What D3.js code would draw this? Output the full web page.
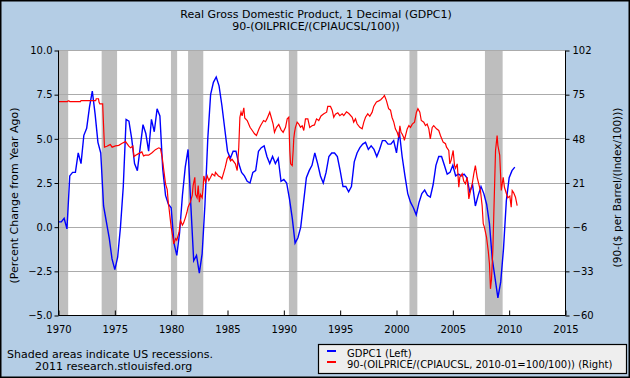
<!DOCTYPE html>
<html><head><meta charset="utf-8">
<script src="https://cdn.jsdelivr.net/npm/d3@7"></script>
<style>body{margin:0;background:#fff;} svg{display:block;font-family:"DejaVu Sans",sans-serif;}</style>
</head><body><svg id="c" width="630" height="378"></svg>
<script>
const titleLines = ["Real Gross Domestic Product, 1 Decimal (GDPC1)", "90-(OILPRICE/(CPIAUCSL/100))"];
const leftAxisTitle = "(Percent Change from Year Ago)";
const rightAxisTitle = "(90-($ per Barrel/(Index/100)))";
const legendLabels = ["GDPC1 (Left)", "90-(OILPRICE/(CPIAUCSL, 2010-01=100/100)) (Right)"];
const notes = ["Shaded areas indicate US recessions.", "2011 research.stlouisfed.org"];
const xTicks = [1970, 1975, 1980, 1985, 1990, 1995, 2000, 2005, 2010, 2015];
const leftTicks = [-5, -2.5, 0, 2.5, 5, 7.5, 10];
const rightTicks = [-60, -33, -6, 21, 48, 75, 102];
const recessionStarts = [1969.92, 1973.83, 1979.98, 1981.50, 1990.45, 2001.15, 2007.85];
const recessionEnds   = [1970.86, 1975.20, 1980.53, 1982.85, 1991.20, 2001.85, 2009.42];

// GDPC1, percent change from year ago, quarterly from 1970 Q1
const gdpStartYear = 1970;
const gdpValues = [
 0.3, 0.3, 0.5, -0.1,
 2.9, 3.1, 3.1, 4.2,
 3.6, 5.2, 5.6, 6.8,
 7.7, 6.4, 4.8, 4.2,
 1.2, 0.3, -0.6, -1.8,
 -2.4, -1.7, 0.0, 2.3,
 6.1, 6.0, 5.0, 3.6,
 3.2, 4.5, 5.8, 5.3,
 4.3, 6.1, 5.4, 6.7,
 6.3, 3.3, 1.8, 1.3,
 1.1, -0.9, -1.6, -0.3,
 1.8, 3.4, 4.4, 1.2,
 -1.9, -1.6, -2.6, -1.5,
 1.3, 5.0, 7.5, 8.2,
 8.5, 8.0, 6.9, 5.6,
 4.3, 3.9, 4.3, 4.3,
 3.6, 3.1, 2.9, 2.6,
 2.5, 3.1, 3.2, 4.3,
 4.5, 4.6, 4.0, 3.6,
 4.0, 3.6, 3.9, 2.6,
 2.7, 2.5, 1.6, 0.5,
 -0.9, -0.6, 0.0, 1.4,
 2.8, 3.2, 3.5, 4.2,
 3.6, 2.9, 2.5, 3.1,
 4.0, 4.2, 4.2, 4.0,
 3.2, 2.3, 2.3, 2.0,
 2.3, 3.7, 4.2, 4.5,
 4.7, 4.8, 4.4, 4.6,
 4.4, 4.0, 4.4, 4.9,
 4.9, 4.7, 4.7, 4.9,
 4.2, 5.4, 4.0, 2.9,
 1.9, 1.4, 1.1, 0.7,
 1.4, 1.9, 2.1, 1.8,
 1.7, 2.4, 3.5, 4.0,
 4.0, 3.5, 3.0, 3.1,
 3.5, 2.9, 3.0, 2.9,
 3.0, 2.8, 2.0, 2.4,
 1.2, 1.8, 2.3, 1.9,
 1.3, 0.2, -1.8, -2.9,
 -4.0, -3.1, -1.2, 1.5,
 2.8, 3.2, 3.4
];

// 90 - real oil price (right axis), dates as decimal years
const oilDates = [
 1970.00,1970.80,1970.85,1970.92,1971.00,1971.95,1972.00,1973.30,1973.35,1973.55,1973.60,1973.67,1973.92,1974.00,1974.08,
 1974.30,1974.45,1974.60,1974.76,1975.06,1975.35,1975.65,1975.95,1976.24,1976.40,1976.60,1976.70,1976.85,1977.07,1977.40,
 1977.55,1977.70,1978.00,1978.30,1978.60,1978.90,1979.05,1979.20,1979.35,1979.50,1979.65,1979.74,1979.80,1979.90,1980.00,
 1980.15,1980.23,1980.40,1980.50,1980.70,1980.83,1981.00,1981.10,1981.27,1981.40,1981.50,1981.70,1981.87,1981.95,1982.10,
 1982.16,1982.30,1982.40,1982.50,1982.60,1982.75,1982.84,1982.90,1983.05,1983.20,1983.34,1983.50,1983.64,1983.87,1983.93,
 1984.20,1984.40,1984.50,1984.67,1984.80,1984.97,1985.10,1985.27,1985.40,1985.70,1985.86,1986.00,1986.10,1986.20,1986.30,
 1986.45,1986.53,1986.75,1987.00,1987.20,1987.40,1987.57,1987.80,1987.93,1988.20,1988.37,1988.50,1988.75,1988.88,1989.05,
 1989.17,1989.35,1989.55,1989.76,1989.94,1990.15,1990.30,1990.44,1990.53,1990.60,1990.74,1990.83,1990.88,1990.95,1991.03,
 1991.18,1991.33,1991.48,1991.63,1991.77,1991.92,1992.13,1992.30,1992.50,1992.72,1992.90,1993.10,1993.30,1993.55,1993.80,
 1993.90,1994.14,1994.29,1994.43,1994.58,1994.79,1994.97,1995.18,1995.32,1995.56,1995.77,1996.07,1996.20,1996.36,1996.50,
 1996.74,1996.95,1997.10,1997.25,1997.45,1997.63,1997.84,1997.98,1998.22,1998.43,1998.60,1998.82,1998.93,1999.10,1999.30,
 1999.47,1999.60,1999.76,1999.90,2000.06,2000.20,2000.30,2000.40,2000.50,2000.65,2000.70,2000.80,2000.95,2001.10,2001.24,
 2001.40,2001.60,2001.77,2001.90,2002.07,2002.20,2002.42,2002.57,2002.72,2002.87,2003.00,2003.17,2003.30,2003.55,2003.75,
 2003.90,2004.14,2004.35,2004.44,2004.64,2004.73,2004.85,2005.03,2005.15,2005.24,2005.39,2005.53,2005.62,2005.83,2005.97,
 2006.12,2006.27,2006.42,2006.57,2006.72,2006.86,2007.00,2007.16,2007.30,2007.45,2007.60,2007.70,2007.80,2007.99,2008.14,
 2008.25,2008.34,2008.43,2008.55,2008.63,2008.79,2008.93,2009.00,2009.16,2009.30,2009.47,2009.58,2009.76,2009.88,2010.06,
 2010.18,2010.27,2010.40,2010.56,2010.71
];
const oilValues = [
 70.8,70.8,71.2,71.2,70.8,70.8,71.4,71.4,72.5,72.5,70.3,69.4,69.4,56.0,42.9,
 43.5,44.0,44.5,42.9,43.7,44.0,45.3,46.3,43.5,42.5,43.5,37.2,38.0,38.8,40.0,
 37.5,38.0,38.0,39.5,41.4,42.5,42.0,36.8,28.6,20.5,17.0,9.3,6.2,0.1,-6.0,
 -12.1,-16.2,-13.0,-14.0,-9.1,-1.9,-4.8,-3.5,0.0,3.1,6.2,9.3,13.4,19.5,24.5,
 14.0,12.0,19.5,9.3,14.0,12.0,18.0,25.3,21.5,25.3,22.5,24.5,26.6,25.3,27.5,
 25.3,24.5,23.5,27.5,30.7,35.8,37.2,34.5,35.5,32.7,28.6,42.9,61.2,64.3,62.0,
 67.0,60.8,59.2,55.1,53.1,51.1,50.0,54.1,56.0,59.2,58.5,60.2,64.3,61.2,57.0,
 52.0,55.0,56.8,53.5,52.0,55.0,60.2,61.2,40.9,32.7,31.7,40.9,48.0,52.0,55.0,
 58.2,57.0,55.1,56.0,53.1,60.2,60.2,55.0,56.0,56.5,60.2,59.2,62.0,63.3,64.3,
 67.8,67.8,65.5,61.2,63.0,63.9,62.2,63.3,62.2,64.5,63.5,61.2,58.2,60.2,57.2,
 55.0,54.1,58.2,61.2,63.3,61.8,64.3,67.8,70.5,71.2,71.9,73.5,74.5,71.5,66.4,
 65.5,61.2,58.2,54.1,52.0,48.9,56.0,52.0,51.0,48.7,47.0,50.0,54.1,56.1,55.0,
 57.0,58.2,64.3,66.4,64.3,59.2,58.2,56.1,57.0,54.1,48.0,55.0,56.1,54.1,53.1,
 50.0,46.0,45.0,42.9,40.9,32.7,35.0,40.9,31.7,30.0,32.7,18.4,24.5,26.6,22.0,
 20.5,24.5,11.3,16.4,20.5,26.6,31.7,24.5,20.5,16.4,7.2,-3.9,-6.0,-12.1,-20.3,
 -28.4,-43.7,-38.0,-20.3,0.1,40.9,50.0,43.9,38.0,16.4,24.5,18.4,14.4,12.0,13.0,
 6.2,16.4,15.0,12.3,7.2
];

const W = 630, H = 378;
const P = {left: 58.5, right: 565.5, top: 50.5, bottom: 315.5};
const svg = d3.select("#c");

svg.append("rect").attr("width", W).attr("height", H).attr("fill", "#B4CDE5");

const x = d3.scaleLinear().domain([1970, 2015]).range([P.left, P.right]);
const yL = d3.scaleLinear().domain([-5, 10]).range([P.bottom, P.top]);
const yR = d3.scaleLinear().domain([-60, 102]).range([P.bottom, P.top]);

svg.append("rect").attr("x", P.left).attr("y", P.top)
  .attr("width", P.right - P.left).attr("height", P.bottom - P.top).attr("fill", "#fff");

svg.append("defs").append("clipPath").attr("id", "clip")
  .append("rect").attr("x", P.left).attr("y", P.top - 1)
  .attr("width", P.right - P.left).attr("height", P.bottom - P.top + 2);

const plot = svg.append("g").attr("clip-path", "url(#clip)");

plot.selectAll("rect.rec").data(recessionStarts).join("rect").attr("class", "rec")
  .attr("x", (d) => x(d))
  .attr("width", (d, i) => x(recessionEnds[i]) - x(d))
  .attr("y", P.top).attr("height", P.bottom - P.top)
  .attr("fill", "#BEBEBE");

plot.selectAll("line.grid").data(leftTicks).join("line").attr("class", "grid")
  .attr("x1", P.left).attr("x2", P.right)
  .attr("y1", (d) => Math.round(yL(d) - 0.5) + 0.5).attr("y2", (d) => Math.round(yL(d) - 0.5) + 0.5)
  .attr("stroke", "#ABABAB").attr("stroke-width", 1);

const gdpData = gdpValues.map((v, i) => ({t: gdpStartYear + i / 4, v}));
const oilData = oilDates.map((t, i) => ({t, v: oilValues[i]}));

plot.append("path").datum(gdpData)
  .attr("d", d3.line().x((d) => x(d.t)).y((d) => yL(d.v)))
  .attr("fill", "none").attr("stroke", "#0000FF").attr("stroke-width", 1.4);

plot.append("path").datum(oilData)
  .attr("d", d3.line().x((d) => x(d.t)).y((d) => yR(d.v)))
  .attr("fill", "none").attr("stroke", "#FF0000").attr("stroke-width", 1.2);

const axL = d3.axisLeft(yL).tickValues(leftTicks).tickFormat(d3.format(".1f")).tickSize(4).tickPadding(2);
const axR = d3.axisRight(yR).tickValues(rightTicks).tickFormat(d3.format("d")).tickSize(4).tickPadding(3);
const axB = d3.axisBottom(x).tickValues(xTicks).tickFormat(d3.format("d")).tickSize(-5).tickPadding(10);

function styleAxis(g) {
  g.selectAll("path.domain").attr("stroke", "#000").attr("stroke-width", 1);
  g.selectAll("line").attr("stroke", "#000");
  g.selectAll("text").attr("fill", "#000").attr("font-size", 10).attr("font-family", "DejaVu Sans");
}
svg.append("g").attr("transform", `translate(${P.left},0)`).call(axL).call(styleAxis)
  .call((g) => g.selectAll("path.domain").attr("d", `M0,${P.top}V${P.bottom}`));
svg.append("g").attr("transform", `translate(${P.right},0)`).call(axR).call(styleAxis)
  .call((g) => g.selectAll("path.domain").attr("d", `M0,${P.top}V${P.bottom}`));
svg.append("g").attr("transform", `translate(0,${P.bottom})`).call(axB).call(styleAxis)
  .call((g) => g.selectAll("path.domain").attr("d", `M${P.left},0H${P.right}`));

svg.selectAll("text.title").data(titleLines).join("text").attr("class", "title")
  .attr("x", 316).attr("y", (d, i) => 17.5 + i * 12.5)
  .attr("text-anchor", "middle").attr("font-size", 11).attr("fill", "#000").text((d) => d);

svg.append("text").attr("transform", "translate(18,195.5) rotate(-90)")
  .attr("text-anchor", "middle").attr("font-size", 11).attr("fill", "#000").text(leftAxisTitle);
svg.append("text").attr("transform", "translate(621,187.5) rotate(-90)")
  .attr("text-anchor", "middle").attr("font-size", 10.5).attr("fill", "#000").text(rightAxisTitle);

svg.append("text").attr("x", 7).attr("y", 358).attr("font-size", 11).attr("fill", "#000").text(notes[0]);
svg.append("text").attr("x", 35).attr("y", 369.5).attr("font-size", 11).attr("fill", "#000").text(notes[1]);

const lg = svg.append("g");
lg.append("rect").attr("x", 318.5).attr("y", 344.5).attr("width", 308).attr("height", 29)
  .attr("fill", "#EEEEEE").attr("stroke", "#000").attr("stroke-width", 1.2);
const legendColors = ["#0000FF", "#FF0000"];
legendLabels.forEach((lab, i) => {
  const yy = 351 + i * 11;
  lg.append("line").attr("x1", 327).attr("x2", 336).attr("y1", yy).attr("y2", yy)
    .attr("stroke", legendColors[i]).attr("stroke-width", 2);
  lg.append("text").attr("x", 347).attr("y", yy + 5.5).attr("font-size", 10).attr("fill", "#000").text(lab);
});

svg.append("rect").attr("x", 0.75).attr("y", 0.75).attr("width", W - 1.5).attr("height", H - 1.5)
  .attr("fill", "none").attr("stroke", "#000").attr("stroke-width", 1.5);
</script></body></html>
